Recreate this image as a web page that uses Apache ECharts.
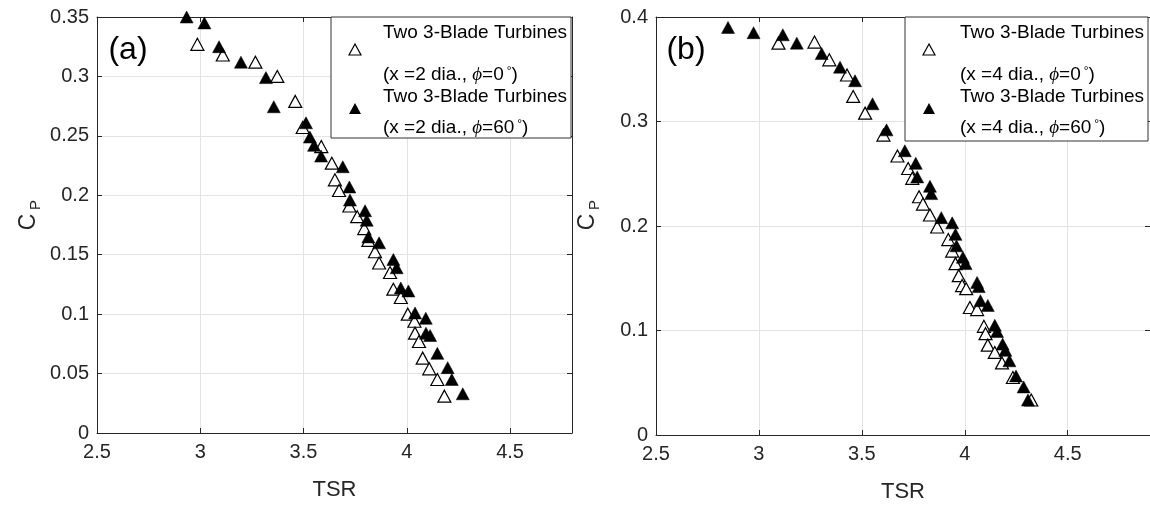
<!DOCTYPE html>
<html>
<head>
<meta charset="utf-8">
<script src="https://cdn.jsdelivr.net/npm/echarts@6/dist/echarts.min.js"></script>
<style>
    html, body { margin: 0; padding: 0; background: #fff; }
    #main { width: 1150px; height: 508px; }
</style>
</head>
<body>
<div id="main"></div>
<script>
    var font = '"Liberation Sans", Arial, Helvetica, sans-serif';
    var ink = '#262626';

    // panel (a): x = 2 dia.
    var tsrA0 = [2.986, 3.109, 3.267, 3.373, 3.460, 3.496, 3.586, 3.637, 3.652, 3.672, 3.722, 3.760, 3.794, 3.814, 3.846, 3.866, 3.919, 3.935, 3.971, 4.005, 4.037, 4.040, 4.059, 4.077, 4.109, 4.148, 4.182];
    var cpA0 = [0.327, 0.318, 0.312, 0.300, 0.279, 0.257, 0.241, 0.227, 0.213, 0.204, 0.191, 0.182, 0.172, 0.162, 0.1525, 0.143, 0.135, 0.121, 0.114, 0.100, 0.094, 0.084, 0.077, 0.063, 0.054, 0.045, 0.031];
    var tsrA60 = [2.934, 3.020, 3.091, 3.197, 3.318, 3.356, 3.512, 3.531, 3.551, 3.585, 3.690, 3.722, 3.725, 3.798, 3.806, 3.814, 3.866, 3.935, 3.951, 3.971, 4.008, 4.040, 4.092, 4.093, 4.113, 4.148, 4.198, 4.218, 4.271];
    var cpA60 = [0.350, 0.345, 0.325, 0.312, 0.299, 0.2745, 0.261, 0.249, 0.242, 0.233, 0.224, 0.207, 0.196, 0.187, 0.179, 0.165, 0.160, 0.146, 0.139, 0.122, 0.1195, 0.101, 0.0965, 0.084, 0.082, 0.067, 0.055, 0.045, 0.033];

    // panel (b): x = 4 dia.
    var tsrB0 = [3.095, 3.270, 3.342, 3.428, 3.458, 3.516, 3.605, 3.673, 3.725, 3.745, 3.778, 3.797, 3.831, 3.866, 3.920, 3.939, 3.955, 3.971, 3.987, 4.007, 4.025, 4.060, 4.093, 4.101, 4.112, 4.146, 4.181, 4.234, 4.323];
    var cpB0 = [0.375, 0.376, 0.359, 0.3445, 0.324, 0.308, 0.287, 0.267, 0.255, 0.2456, 0.228, 0.221, 0.2105, 0.199, 0.187, 0.176, 0.164, 0.1525, 0.143, 0.140, 0.122, 0.120, 0.104, 0.097, 0.086, 0.079, 0.069, 0.055, 0.0335];
    var tsrB60 = [2.850, 2.974, 3.116, 3.184, 3.305, 3.394, 3.467, 3.552, 3.620, 3.709, 3.762, 3.769, 3.831, 3.837, 3.886, 3.939, 3.955, 3.960, 3.991, 4.004, 4.060, 4.068, 4.076, 4.112, 4.146, 4.157, 4.184, 4.197, 4.217, 4.249, 4.286, 4.307];
    var cpB60 = [0.390, 0.385, 0.383, 0.375, 0.365, 0.352, 0.339, 0.317, 0.292, 0.272, 0.260, 0.247, 0.238, 0.231, 0.208, 0.203, 0.192, 0.181, 0.170, 0.164, 0.146, 0.142, 0.1285, 0.124, 0.105, 0.099, 0.087, 0.081, 0.071, 0.0565, 0.046, 0.0335];

    var xTicks = { min: 2.5, interval: 0.5 };
    var yMaxA = 0.35, yStepA = 0.05;
    var yMaxB = 0.4, yStepB = 0.1;

    function pairs(xs, ys) {
        var out = [];
        xs.forEach(function (x, i) { out.push([x, ys[i]]); });
        return out;
    }

    function xAxes(grid, max) {
        var base = {
            gridIndex: grid, type: 'value', min: xTicks.min, max: max, interval: xTicks.interval,
            axisLine: { show: true, onZero: false, lineStyle: { color: ink, width: 1 } },
            axisTick: { show: true, inside: true, length: 5, lineStyle: { color: ink } }
        };
        return [
            Object.assign({}, base, {
                position: 'bottom',
                axisLabel: { color: ink, fontSize: 20, fontFamily: font, margin: 9, showMaxLabel: false },
                splitLine: { show: true, lineStyle: { color: '#e3e3e3', width: 1 } },
                name: 'TSR', nameLocation: 'middle', nameGap: 46,
                nameTextStyle: { color: ink, fontSize: 22, fontFamily: font }
            }),
            Object.assign({}, base, {
                position: 'top',
                axisLabel: { show: false },
                splitLine: { show: false }
            })
        ];
    }

    function yAxes(grid, max, step) {
        var base = {
            gridIndex: grid, type: 'value', min: 0, max: max, interval: step,
            axisLine: { show: true, onZero: false, lineStyle: { color: ink, width: 1 } },
            axisTick: { show: true, inside: true, length: 5, lineStyle: { color: ink } }
        };
        return [
            Object.assign({}, base, {
                position: 'left',
                axisLabel: { color: ink, fontSize: 20, fontFamily: font, margin: 8 },
                splitLine: { show: true, lineStyle: { color: '#e3e3e3', width: 1 } }
            }),
            Object.assign({}, base, {
                position: 'right',
                axisLabel: { show: false },
                splitLine: { show: false }
            })
        ];
    }

    function openSeries(name, grid, data) {
        return {
            name: name, type: 'scatter', xAxisIndex: grid * 2, yAxisIndex: grid * 2,
            symbol: 'triangle', symbolSize: [13, 12], data: data,
            itemStyle: { color: '#fff', borderColor: '#000', borderWidth: 1.2, opacity: 1 },
            emphasis: { disabled: true }, z: 3
        };
    }

    function filledSeries(name, grid, data) {
        return {
            name: name, type: 'scatter', xAxisIndex: grid * 2, yAxisIndex: grid * 2,
            symbol: 'triangle', symbolSize: [13, 12], data: data,
            itemStyle: { color: '#000', borderColor: '#000', borderWidth: 0.5, opacity: 1 },
            emphasis: { disabled: true }, z: 4
        };
    }

    var rich = {
        t: { fontSize: 19, fontFamily: font, fill: '#000' },
        p: { fontSize: 19, fontFamily: '"Liberation Serif", serif', fontStyle: 'italic', fill: '#000' },
        d: { fontSize: 12, fontFamily: font, fill: '#000', verticalAlign: 'top', padding: [0, 0, 6, 3] }
    };

    function legendBox(x, y, w, h, dist) {
        var tx = x + (w > 240 ? 55 : 52), mx = x + 24;
        function line2(angle) {
            return '{t|(x =' + dist + ' dia., }{p|ϕ}{t|=' + angle + '}{d|°}{t|)}';
        }
        return [
            { type: 'rect', shape: { x: x, y: y, width: w, height: h },
              style: { fill: '#fff', stroke: '#333', lineWidth: 1 }, z: 100 },
            { type: 'polygon', shape: { points: [[mx, y + 27], [mx - 6, y + 38], [mx + 6, y + 38]] },
              style: { fill: '#fff', stroke: '#000', lineWidth: 1.2 }, z: 101 },
            { type: 'polygon', shape: { points: [[mx, y + 86], [mx - 6, y + 97], [mx + 6, y + 97]] },
              style: { fill: '#000' }, z: 101 },
            { type: 'text', x: tx, y: y + 16, z: 101,
              style: { text: 'Two 3-Blade Turbines', font: '19px ' + font, fill: '#000', verticalAlign: 'middle' } },
            { type: 'text', x: tx, y: y + 58, z: 101,
              style: { text: line2(0), rich: rich, verticalAlign: 'middle' } },
            { type: 'text', x: tx, y: y + 80, z: 101,
              style: { text: 'Two 3-Blade Turbines', font: '19px ' + font, fill: '#000', verticalAlign: 'middle' } },
            { type: 'text', x: tx, y: y + 111, z: 101,
              style: { text: line2(60), rich: rich, verticalAlign: 'middle' } }
        ];
    }

    function cpLabel(x) {
        return [
            { type: 'text', x: x, y: 222, rotation: Math.PI / 2,
              style: { text: 'C', font: '23px ' + font, fill: ink, align: 'center', verticalAlign: 'middle' } },
            { type: 'text', x: x + 7, y: 205, rotation: Math.PI / 2,
              style: { text: 'P', font: '15px ' + font, fill: ink, align: 'center', verticalAlign: 'middle' } }
        ];
    }

    var chart = echarts.init(document.getElementById('main'));
    chart.setOption({
        animation: false,
        backgroundColor: '#fff',
        grid: [
            { left: 97, top: 17, width: 475, height: 416 },
            { left: 656, top: 17, width: 496, height: 418 }
        ],
        xAxis: xAxes(0, 4.8).concat(xAxes(1, 4.9)),
        yAxis: yAxes(0, yMaxA, yStepA).concat(yAxes(1, yMaxB, yStepB)),
        series: [
            openSeries('a0', 0, pairs(tsrA0, cpA0)),
            filledSeries('a60', 0, pairs(tsrA60, cpA60)),
            openSeries('b0', 1, pairs(tsrB0, cpB0)),
            filledSeries('b60', 1, pairs(tsrB60, cpB60))
        ],
        graphic: [].concat(
            legendBox(331, 17, 240, 121, 2),
            legendBox(905, 17, 243, 124, 4),
            cpLabel(29),
            cpLabel(588),
            [
                { type: 'text', x: 128, y: 50, style: { text: '(a)', font: '32px ' + font, fill: '#000', align: 'center', verticalAlign: 'middle' } },
                { type: 'text', x: 686, y: 50, style: { text: '(b)', font: '32px ' + font, fill: '#000', align: 'center', verticalAlign: 'middle' } }
            ]
        )
    });
</script>
</body>
</html>
